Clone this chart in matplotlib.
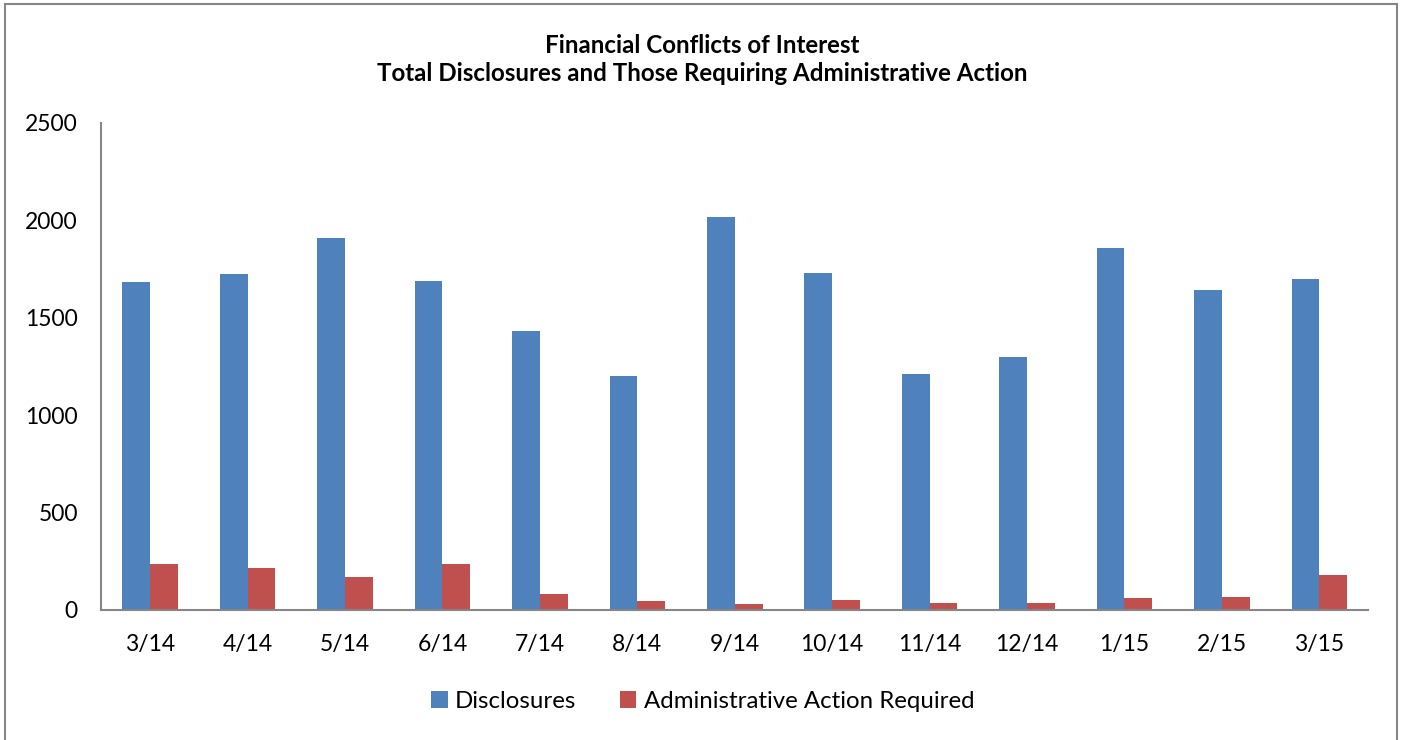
import numpy as np
import matplotlib
matplotlib.use("Agg")
import matplotlib.pyplot as plt
from matplotlib.patches import Rectangle

plt.rcParams['font.family'] = ['Lato', 'DejaVu Sans']

# data
months = ['3/14', '4/14', '5/14', '6/14', '7/14', '8/14', '9/14',
          '10/14', '11/14', '12/14', '1/15', '2/15', '3/15']
disclosures = [1682, 1723, 1908, 1687, 1430, 1199, 2016,
               1728, 1209, 1301, 1857, 1641, 1698]
admin_action = [237, 216, 170, 237, 82, 46, 31, 51, 36, 38, 62, 67, 180]

blue = '#4f81bd'
red = '#c0504d'
grey = '#868686'

fig = plt.figure(figsize=(14.05, 7.40), dpi=100)
ax = fig.add_axes([0.0722, 0.1757, 0.9015, 0.6581])

x = np.arange(len(months))
w = 0.285
ax.bar(x - w/2, disclosures, w, color=blue, label='Disclosures')
ax.bar(x + w/2, admin_action, w, color=red, label='Administrative Action Required')

ax.set_xlim(-0.5, len(months) - 0.5)
ax.set_ylim(0, 2500)
ax.set_yticks(range(0, 2501, 500))
ax.set_xticks(x)
ax.set_xticklabels(months)
ax.tick_params(axis='both', length=0, labelsize=16.5, colors='black')
ax.tick_params(axis='x', pad=17)
ax.tick_params(axis='y', pad=17)

for s in ['top', 'right']:
    ax.spines[s].set_visible(False)
ax.spines['left'].set_color(grey)
ax.spines['bottom'].set_color(grey)
ax.spines['left'].set_linewidth(1.5)
ax.spines['bottom'].set_linewidth(1.5)

fig.text(0.5, 0.920, 'Financial Conflicts of Interest\nTotal Disclosures and Those Requiring Administrative Action',
         ha='center', va='center', fontsize=17.4, fontweight='bold', linespacing=1.28)

fig.legend(loc='center', bbox_to_anchor=(0.5, 0.052), ncol=2, frameon=False,
           fontsize=17.3, handlelength=0.7, handleheight=0.7, handletextpad=0.3,
           columnspacing=1.8)

fig.patches.append(Rectangle((5/1405, -0.01), 1392/1405, 1.0046, transform=fig.transFigure,
                             fill=False, edgecolor=grey, linewidth=1.5))

fig.savefig('out.png', dpi=100)
